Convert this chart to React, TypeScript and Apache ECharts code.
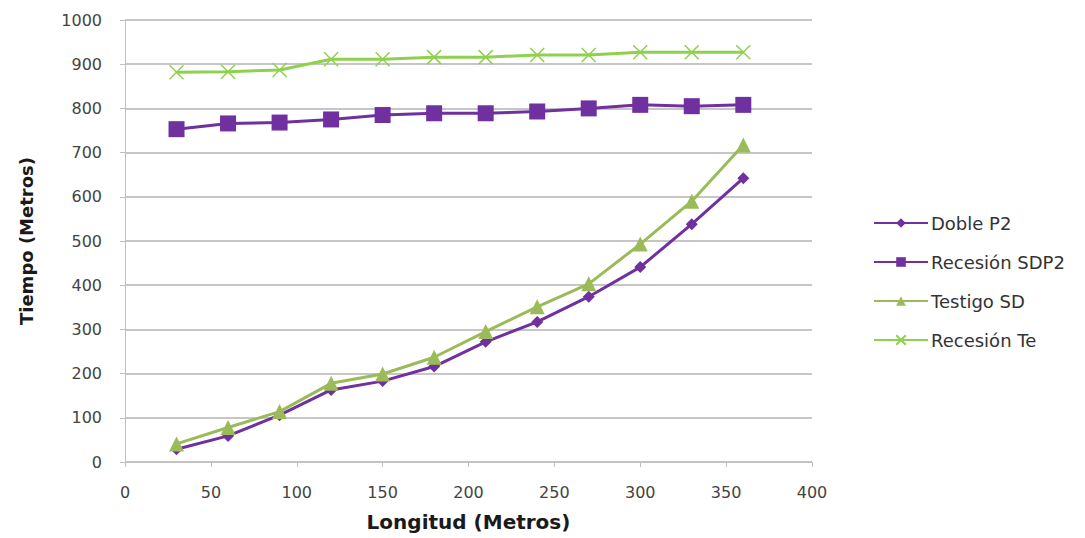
import React, { useEffect, useRef } from "react";
import * as echarts from "echarts";

const longitudes = [30, 60, 90, 120, 150, 180, 210, 240, 270, 300, 330, 360];
const dobleP2 = [29, 59, 106, 163, 183, 216, 272, 317, 374, 441, 538, 642];
const recesionSDP2 = [753, 766, 768, 775, 785, 789, 789, 793, 800, 808, 805, 808];
const testigoSD = [41, 78, 114, 178, 199, 237, 295, 351, 403, 493, 590, 717];
const recesionTe = [882, 883, 887, 911, 911, 916, 916, 921, 921, 927, 927, 927];

const seriesNames = ["Doble P2", "Recesión SDP2", "Testigo SD", "Recesión Te"];

const FONT = "'DejaVu Sans', sans-serif";

export default function App() {
  const ref = useRef<HTMLDivElement>(null);
  useEffect(() => {
    if (!ref.current) return;
    const chart = echarts.init(ref.current, undefined, { renderer: "svg" });
    const pair = (arr: number[]) => longitudes.map((x, i) => [x, arr[i]]);
    const purple = "#7030a0";
    const greenT = "#9bbb59";
    const greenX = "#8fd14f";
    chart.setOption({
      animation: false,
      backgroundColor: "#ffffff",
      grid: { left: 125, right: 273, top: 20, bottom: 76 },
      xAxis: {
        type: "value",
        min: 0,
        max: 400,
        interval: 50,
        name: "Longitud (Metros)",
        nameLocation: "middle",
        nameGap: 50,
        nameTextStyle: { fontFamily: FONT, fontSize: 20, fontWeight: "bold", color: "#1a1a1a" },
        axisLine: { show: true, lineStyle: { color: "#bfbfbf" } },
        axisTick: { show: true, length: 5, lineStyle: { color: "#bfbfbf" } },
        axisLabel: { fontFamily: FONT, fontSize: 16, color: "#444", margin: 22 },
        splitLine: { show: false },
      },
      yAxis: {
        type: "value",
        min: 0,
        max: 1000,
        interval: 100,
        name: "Tiempo (Metros)",
        nameLocation: "middle",
        nameGap: 90,
        nameRotate: 90,
        nameTextStyle: { fontFamily: FONT, fontSize: 18, fontWeight: "bold", color: "#1a1a1a" },
        axisLine: { show: true, lineStyle: { color: "#bfbfbf" } },
        axisTick: { show: true, length: 5, lineStyle: { color: "#bfbfbf" } },
        axisLabel: {
          fontFamily: FONT,
          fontSize: 16,
          color: "#444",
          margin: 23,
          formatter: (v: number) => String(v),
        },
        splitLine: { show: true, lineStyle: { color: "#b3b3b3", width: 1.5 } },
      },
      legend: {
        orient: "vertical",
        left: 868,
        top: 209,
        itemGap: 21,
        itemWidth: 54,
        itemHeight: 12,
        textStyle: { fontFamily: FONT, fontSize: 18, color: "#333", padding: [0, 0, 0, -2] },
        data: seriesNames,
      },
      series: [
        {
          name: seriesNames[0],
          type: "line",
          data: pair(dobleP2),
          symbol: "diamond",
          symbolSize: 12,
          itemStyle: { color: purple },
          lineStyle: { color: purple, width: 3 },
        },
        {
          name: seriesNames[1],
          type: "line",
          data: pair(recesionSDP2),
          symbol: "rect",
          symbolSize: 16,
          itemStyle: { color: purple },
          lineStyle: { color: purple, width: 3 },
        },
        {
          name: seriesNames[2],
          type: "line",
          data: pair(testigoSD),
          symbol: "triangle",
          symbolSize: 15,
          itemStyle: { color: greenT },
          lineStyle: { color: greenT, width: 3 },
        },
        {
          name: seriesNames[3],
          type: "line",
          data: pair(recesionTe),
          symbol: "path://M0,0 L10,10 M10,0 L0,10",
          symbolSize: 14,
          itemStyle: { color: "none", borderColor: greenX, borderWidth: 1.5 },
          lineStyle: { color: greenX, width: 3 },
        },
      ],
    });
    return () => chart.dispose();
  }, []);
  return (
    <div
      ref={ref}
      style={{ position: "fixed", left: 0, top: 0, width: 1085, height: 538 }}
    />
  );
}
